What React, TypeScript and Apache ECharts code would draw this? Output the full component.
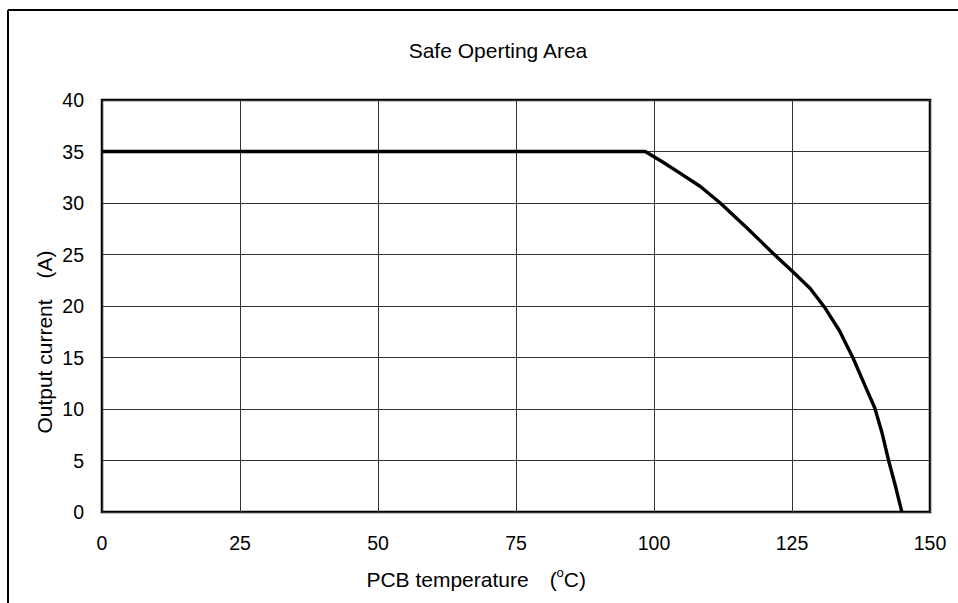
import React, { useEffect, useRef } from "react";
import * as echarts from "echarts";

const titleText = "Safe Operting Area";
const xTicks = [0, 25, 50, 75, 100, 125, 150];
const yTicks = [0, 5, 10, 15, 20, 25, 30, 35, 40];
const temperature = [0, 98.4, 101.5, 104.7, 108.4, 112, 116.8, 121.6, 125.2, 128.3, 131, 133.6, 136.1, 138.2, 140, 141.3, 142.5, 143.7, 144.9];
const current = [35, 35, 34, 32.9, 31.6, 30, 27.6, 25.1, 23.3, 21.7, 19.8, 17.6, 14.9, 12.3, 10.1, 7.7, 5, 2.6, 0];

const FONT = "'Liberation Sans', Arial, sans-serif";

export default function App() {
  const ref = useRef<HTMLDivElement>(null);
  useEffect(() => {
    if (!ref.current) return;
    const chart = echarts.init(ref.current, null, { renderer: "svg" });
    const data = temperature.map((t, i) => [t, current[i]]);
    chart.setOption({
      animation: false,
      backgroundColor: "#fff",
      textStyle: { fontFamily: FONT },
      grid: {
        left: 102,
        top: 100,
        width: 828,
        height: 412,
        show: true,
        borderColor: "#000",
        borderWidth: 2.5,
        containLabel: false,
      },
      xAxis: {
        type: "value",
        min: xTicks[0],
        max: xTicks[xTicks.length - 1],
        interval: 25,
        axisLine: { show: false },
        axisTick: { show: false },
        axisLabel: { color: "#000", fontSize: 19.5, margin: 21, fontFamily: FONT },
        splitLine: { show: true, lineStyle: { color: "#333", width: 1 } },
      },
      yAxis: {
        type: "value",
        min: yTicks[0],
        max: yTicks[yTicks.length - 1],
        interval: 5,
        axisLine: { show: false },
        axisTick: { show: false },
        axisLabel: { color: "#000", fontSize: 19.5, margin: 18, fontFamily: FONT },
        splitLine: { show: true, lineStyle: { color: "#333", width: 1 } },
      },
      series: [
        {
          type: "line",
          data,
          showSymbol: false,
          symbol: "none",
          lineStyle: { color: "#000", width: 3.4 },
          z: 5,
        },
      ],
      graphic: [
        {
          type: "line",
          shape: { x1: 8, y1: 10, x2: 958, y2: 10 },
          style: { stroke: "#000", lineWidth: 2 },
        },
        {
          type: "line",
          shape: { x1: 8, y1: 10, x2: 8, y2: 603 },
          style: { stroke: "#000", lineWidth: 2 },
        },
        {
          type: "text",
          x: 498,
          y: 50,
          style: {
            text: titleText,
            font: `21px ${FONT}`,
            fill: "#000",
            align: "center",
            verticalAlign: "middle",
          },
        },
        {
          type: "text",
          x: 586,
          y: 578,
          style: {
            text: "{n|PCB temperature　(}{s|o}{n|C)}",
            fill: "#000",
            align: "right",
            verticalAlign: "middle",
            rich: {
              n: { fontSize: 21, fontFamily: FONT, fill: "#000", verticalAlign: "bottom", lineHeight: 24 },
              s: { fontSize: 13, fontFamily: FONT, fill: "#000", verticalAlign: "top", lineHeight: 24 },
            },
          },
        },
        {
          type: "text",
          x: 44,
          y: 342,
          rotation: Math.PI / 2,
          style: {
            text: "Output current　(A)",
            font: `21px ${FONT}`,
            fill: "#000",
            align: "center",
            verticalAlign: "middle",
          },
        },
      ],
    });
    return () => chart.dispose();
  }, []);
  return (
    <div
      ref={ref}
      style={{ position: "absolute", left: 0, top: 0, width: 958, height: 603 }}
    />
  );
}
